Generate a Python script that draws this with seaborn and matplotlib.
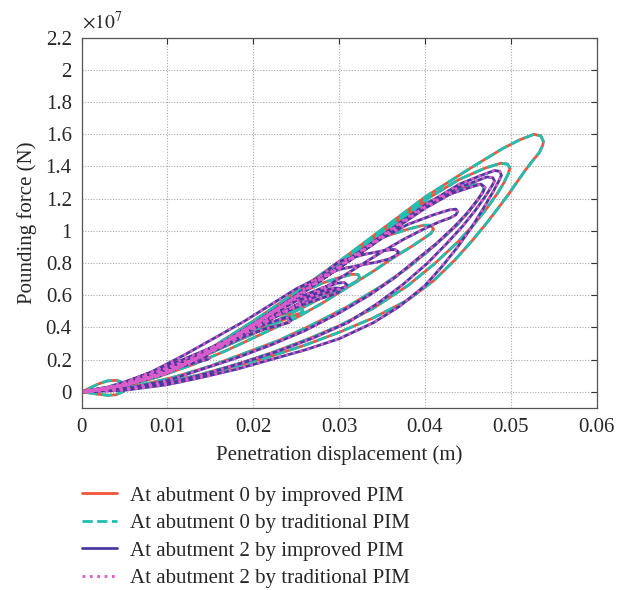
import matplotlib
matplotlib.use('Agg')
import matplotlib.pyplot as plt
import seaborn as sns
import numpy as np
import pandas as pd
from matplotlib.ticker import FuncFormatter, MultipleLocator

sns.set_theme(style='white')
plt.rcParams['font.family'] = ['Liberation Serif', 'DejaVu Serif']
plt.rcParams['mathtext.fontset'] = 'stix'

# Abutment 0: penetration displacement (m) / pounding force (1e7 N), loops
a0_disp = [
    # loop 1, peak ~0.054 m
    0, .005, .01, .015, .02, .025, .03, .035, .04, .045, .049, .051, .0527, .0535, .0538,
    .0537, .0533, .0526, .0518, .0508, .0497, .0485, .0472, .0455, .0435, .041, .038, .034, .030, .026,
    .022, .018, .014, .010, .005, 0,
    # loop 2
    .005, .01, .015, .02, .025, .03, .035, .04, .044, .047, .0488, .0496, .0499,
    .0497, .0492, .0484, .0472, .0457, .0438, .0412, .038, .034, .030, .026, .022, .018, .014, .010, .005, 0,
    # loop 3
    .005, .01, .015, .02, .025, .03, .035, .04, .043, .0455, .0465, .0469,
    .0467, .0461, .0451, .0438, .0422, .0405, .038, .035, .031, .027, .023, .019, .015, .011, .006, 0,
    # loop 4
    .005, .01, .015, .02, .025, .03, .035, .038, .0398, .0407, .041,
    .0407, .0399, .0385, .0365, .034, .031, .028, .025, .021, .017, .013, .009, .005, 0,
    # loop 5
    .005, .01, .015, .02, .025, .028, .030, .0315, .0322, .0324,
    .0321, .0313, .0298, .028, .026, .023, .020, .017, .013, .009, .005, 0,
    # loop 6
    .005, .01, .015, .02, .023, .0248, .0256, .0258,
    .0255, .0245, .0228, .020, .017, .013, .009, .005, 0,
    # small loops near the origin
    .001, .002, .003, .0041, .0049, .0052, .0048, .0040, .0031, .002, .001, 0,
    .003, .006, .0078, .0079, .007, .005, .0025, 0,
]
a0_force = [
    0, .045, .13, .27, .44, .62, .81, 1.01, 1.21, 1.38, 1.51, 1.565, 1.60, 1.59, 1.555,
    1.53, 1.485, 1.44, 1.385, 1.31, 1.225, 1.14, 1.05, .94, .82, .69, .57, .46, .37, .29,
    .22, .16, .105, .06, .018, 0,
    .044, .128, .265, .435, .61, .80, .995, 1.19, 1.32, 1.39, 1.42, 1.415, 1.39,
    1.355, 1.30, 1.23, 1.14, 1.04, .93, .80, .66, .52, .41, .32, .24, .17, .11, .06, .018, 0,
    .043, .125, .26, .43, .60, .79, .985, 1.17, 1.24, 1.285, 1.29, 1.27,
    1.24, 1.19, 1.12, 1.04, .96, .88, .77, .66, .53, .42, .32, .24, .16, .095, .03, 0,
    .043, .125, .26, .43, .60, .79, .96, 1.01, 1.035, 1.035, 1.01,
    .985, .955, .905, .84, .75, .65, .55, .46, .36, .26, .17, .095, .03, 0,
    .044, .128, .265, .435, .60, .675, .71, .73, .73, .71,
    .69, .665, .63, .585, .53, .45, .37, .29, .19, .11, .04, 0,
    .044, .126, .26, .41, .475, .51, .52, .50,
    .49, .47, .43, .36, .29, .20, .12, .045, 0,
    .025, .05, .068, .072, .055, .03, .0, -.018, -.021, -.015, -.007, 0,
    .03, .075, .10, .09, .07, .04, .012, 0,
]

# Abutment 2
a2_disp = [
    0, .005, .01, .015, .02, .025, .03, .035, .04, .044, .0468, .0481, .0487, .0489,
    .0486, .0479, .0468, .0454, .0438, .042, .040, .037, .034, .030, .026, .022, .018, .014, .010, .005, 0,
    .005, .01, .015, .02, .025, .03, .035, .04, .0435, .046, .0472, .0479, .0481,
    .0478, .0471, .0459, .0444, .0425, .0403, .0375, .0345, .031, .027, .023, .019, .015, .011, .006, 0,
    .005, .01, .015, .02, .025, .03, .035, .04, .043, .0455, .0465, .0470,
    .0468, .0461, .0449, .0433, .0413, .0392, .0365, .0335, .030, .026, .022, .018, .014, .010, .005, 0,
    .005, .01, .015, .02, .025, .03, .035, .038, .041, .0428, .0436, .0438,
    .0436, .0429, .0416, .0398, .0376, .035, .032, .029, .026, .022, .018, .014, .010, .005, 0,
    .005, .01, .015, .02, .025, .03, .033, .0355, .0365, .0369,
    .0367, .0358, .0343, .0322, .030, .028, .025, .022, .019, .016, .012, .008, .004, 0,
    .005, .01, .015, .02, .025, .028, .0298, .0306, .0309,
    .0306, .0297, .0282, .0262, .024, .021, .018, .015, .012, .008, .004, 0,
    .005, .01, .015, .02, .025, .028, .0293, .0299, .0301,
    .0298, .0288, .0272, .0252, .023, .020, .017, .014, .010, .006, .003, 0,
    .005, .01, .015, .02, .0225, .0237, .0242, .0244,
    .0241, .0231, .0213, .019, .016, .013, .010, .006, .003, 0,
    .004, .008, .011, .0135, .0146, .0149,
    .0146, .0134, .0115, .0092, .0062, .003, 0,
]
a2_force = [
    0, .04, .12, .255, .42, .595, .78, .97, 1.16, 1.29, 1.35, 1.375, 1.37, 1.345,
    1.31, 1.24, 1.14, 1.02, .90, .78, .66, .53, .43, .33, .26, .20, .14, .09, .045, .01, 0,
    .04, .118, .25, .415, .59, .775, .965, 1.15, 1.26, 1.31, 1.335, 1.33, 1.31,
    1.28, 1.22, 1.13, 1.03, .92, .80, .67, .55, .43, .335, .255, .185, .12, .065, .02, 0,
    .04, .118, .25, .415, .59, .77, .96, 1.14, 1.23, 1.275, 1.29, 1.27,
    1.245, 1.19, 1.11, 1.02, .92, .83, .71, .60, .49, .38, .29, .21, .14, .07, .018, 0,
    .04, .118, .25, .415, .59, .77, .955, 1.04, 1.10, 1.13, 1.135, 1.12,
    1.10, 1.08, 1.055, 1.01, .95, .87, .77, .67, .57, .45, .33, .22, .13, .035, 0,
    .042, .122, .255, .42, .60, .81, .855, .88, .885, .87,
    .85, .825, .805, .785, .76, .72, .64, .54, .44, .35, .23, .12, .035, 0,
    .042, .122, .255, .42, .58, .645, .675, .68, .665,
    .65, .635, .61, .57, .51, .43, .35, .27, .19, .11, .035, 0,
    .042, .12, .25, .41, .565, .625, .645, .645, .63,
    .615, .595, .57, .53, .48, .40, .32, .25, .16, .08, .025, 0,
    .042, .12, .25, .395, .44, .46, .46, .445,
    .43, .415, .39, .345, .27, .20, .14, .065, .02, 0,
    .03, .095, .16, .205, .22, .21,
    .20, .185, .155, .115, .065, .02, 0,
]

labels = ['At abutment 0 by improved PIM', 'At abutment 0 by traditional PIM',
          'At abutment 2 by improved PIM', 'At abutment 2 by traditional PIM']
colors = ['#f0553a', '#1fbfb2', '#4b3a9e', '#d95cc8']
styles = ['-', '--', '-', ':']

frames = []
for lab, d, f in [(labels[0], a0_disp, a0_force), (labels[1], a0_disp, a0_force),
                  (labels[2], a2_disp, a2_force), (labels[3], a2_disp, a2_force)]:
    frames.append(pd.DataFrame({'disp': d, 'force': f, 'series': lab, 'step': np.arange(len(d))}))
df = pd.concat(frames, ignore_index=True)

fig = plt.figure(figsize=(6.26, 5.9), dpi=100)
ax = fig.add_axes([0.1302, 0.3085, 0.823, 0.6276])

for lab, c, ls in zip(labels, colors, styles):
    sub = df[df['series'] == lab]
    sns.lineplot(data=sub, x='disp', y='force', sort=False, estimator=None,
                 color=c, linestyle=ls, lw=2.0, label=lab, ax=ax)

ax.set_xlim(0, 0.06)
ax.set_ylim(-0.1, 2.2)
ax.xaxis.set_major_locator(MultipleLocator(0.01))
ax.yaxis.set_major_locator(MultipleLocator(0.2))
fmt = FuncFormatter(lambda v, p: f'{round(v, 4):g}')
ax.xaxis.set_major_formatter(fmt)
ax.yaxis.set_major_formatter(fmt)
ax.grid(True, linestyle=(0, (1, 1.5)), color='#a8a8a8', lw=0.8)
ax.tick_params(direction='in', top=True, right=True, length=4, width=0.8,
               labelsize=15, pad=7, color='#333333')
for s in ax.spines.values():
    s.set_color('#555555')
    s.set_linewidth(0.9)

ax.set_xlabel('Penetration displacement (m)', fontsize=15, labelpad=6)
ax.set_ylabel('Pounding force (N)', fontsize=15, labelpad=6)
ax.text(0.0, 1.015, r'$\times10^{7}$', transform=ax.transAxes, fontsize=14,
        ha='left', va='bottom')

ax.legend(loc='upper left', bbox_to_anchor=(0.131, 0.176), bbox_transform=fig.transFigure,
          frameon=False, fontsize=15, handlelength=1.7, handletextpad=0.6,
          labelspacing=0.38, borderpad=0, borderaxespad=0)

fig.savefig('out.png', dpi=100)
